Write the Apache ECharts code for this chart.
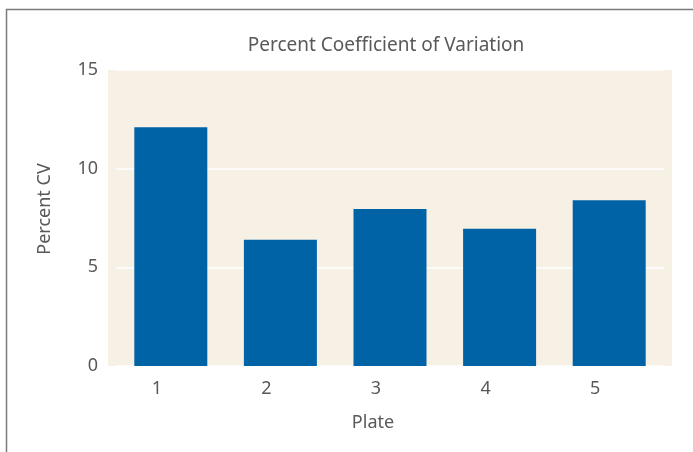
<!DOCTYPE html>
<html><head><meta charset="utf-8">
<script src="https://cdn.jsdelivr.net/npm/echarts@6/dist/echarts.min.js"></script>
<style>html,body{margin:0;padding:0;background:#fff}#c{width:693px;height:452px}</style>
</head><body><div id="c"></div>
<script>
const categories = ['1', '2', '3', '4', '5'];
const percentCV = [12.1, 6.4, 7.95, 6.95, 8.4];
const yTicks = [0, 5, 10, 15];

const font = 'Noto Sans';
const grey = '#595959';
const chart = echarts.init(document.getElementById('c'));
chart.setOption({
  animation: false,
  backgroundColor: '#fff',
  title: {
    text: 'Percent Coefficient of Variation',
    left: 381, top: 31, textAlign: 'center',
    textStyle: {fontFamily: font, fontSize: 19, fontWeight: 'normal', color: grey}
  },
  graphic: [
    {type: 'polyline', shape: {points: [[6.5, 452], [6.5, 9.5], [693, 9.5]]},
     style: {stroke: '#7a7a7a', lineWidth: 1.5, fill: null}}
  ],
  grid: [
    {left: 108, right: 21, top: 70, bottom: 86, show: true, backgroundColor: '#f6f0e5', borderWidth: 0},
    {left: 116, right: 29, top: 70, bottom: 86}
  ],
  xAxis: [
    {gridIndex: 0, type: 'value', show: false},
    {gridIndex: 1, type: 'category', data: categories,
     axisLine: {show: false}, axisTick: {show: false},
     axisLabel: {margin: 14, fontFamily: font, fontSize: 18, color: grey, padding: [0, 28, 0, 0]},
     name: 'Plate', nameLocation: 'middle', nameGap: 48,
     nameTextStyle: {fontFamily: font, fontSize: 18, color: grey, padding: [0, 34, 0, 0]}}
  ],
  yAxis: [
    {gridIndex: 0, type: 'value', show: false},
    {gridIndex: 1, type: 'value', min: yTicks[0], max: yTicks[yTicks.length - 1], interval: 5,
     axisLine: {show: false}, axisTick: {show: false},
     splitLine: {lineStyle: {color: '#ffffff', width: 1.5}},
     axisLabel: {margin: 18, fontFamily: font, fontSize: 18, color: grey},
     name: 'Percent CV', nameLocation: 'middle', nameGap: 62,
     nameTextStyle: {fontFamily: font, fontSize: 18, color: grey, padding: [0, 0, 0, 18]}}
  ],
  series: [{
    type: 'bar', xAxisIndex: 1, yAxisIndex: 1, data: percentCV, barWidth: 73,
    itemStyle: {color: '#0063a6'}
  }]
});
</script></body></html>
